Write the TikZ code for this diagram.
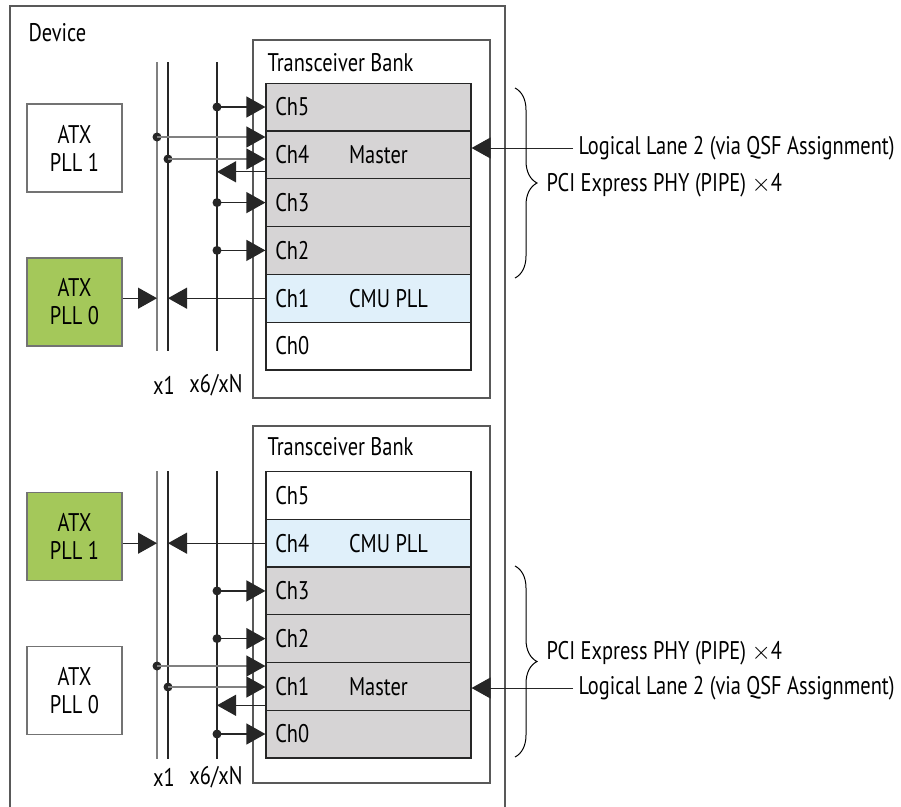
\documentclass[tikz,border=0pt]{standalone}
\usepackage{fontspec}
\setmainfont{PT Sans}[FakeStretch=0.8]
\usetikzlibrary{
    positioning,              % relative placement
    arrows.meta,              % Triangle arrow tips
    calc,                     % offsets from node anchors
    decorations.pathreplacing % braces
}

\definecolor{atxgreen}{RGB}{164,200,90}
\definecolor{chgray}{RGB}{214,212,213}
\definecolor{cmublue}{RGB}{224,240,250}

\begin{document}
\begin{tikzpicture}[
        x=1pt, y=-1pt,
        >={Triangle[length=19pt,width=21pt,color=black!85]},
        line width=1.2pt,
        font=\fontsize{25.5}{29}\selectfont,
        % Styles
        devbox/.style={draw=black!65, line width=1.2pt},
        chan/.style={rectangle, draw=black!85, line width=1.2pt, minimum width=205pt, minimum height=47.8pt, inner sep=0pt},
        chlabel/.style={anchor=west, xshift=6pt},
        atx/.style={rectangle, draw=black!55, line width=1.2pt, minimum width=95pt, minimum height=88pt, align=center, font=\fontsize{25.5}{28}\selectfont},
        txt/.style={anchor=west, inner xsep=0pt},
        bus/.style={draw=black!85, line width=1.2pt},
        feed/.style={->, black!85},
        feedgray/.style={->, black!50},
        tap/.style={circle, fill=black!85, inner sep=0pt, minimum size=9pt},
        lanebrace/.style={decorate, decoration={brace, amplitude=22pt}, line width=1pt}
    ]
    \useasboundingbox (0,0) rectangle (901,806);

    % --- Device outline (open at the bottom) ---
    \draw[devbox] (10,810) -- (10,6) -- (505,6) -- (505,810);
    \node[txt] (device) at (28,33) {Device};

    % --- 1. Upper transceiver bank ---
    \draw[devbox] (253,40) rectangle (490,398);
    \node[txt] (tbank) at (267,63) {Transceiver Bank};
    \foreach \n/\c [count=\k from 0] in {5/chgray, 4/chgray, 3/chgray, 2/chgray, 1/cmublue, 0/white}
        \node[chan, fill=\c, label={[chlabel]west:Ch\n}] (t\n) at (368.5,107+47.8*\k) {};
    \node[txt] (tmaster) at ($(t4.west)+(83,0)$) {Master};
    \node[txt] (tcmu) at ($(t1.west)+(83,0)$) {CMU PLL};

    % ATX PLLs
    \node[atx] (tatx1) at (74.5,148) {ATX\\PLL 1};
    \node[atx, fill=atxgreen] (tatx0) at (74.5,302) {ATX\\PLL 0};

    % Clock lines x1 / x6/xN
    \coordinate (ta) at (157,62);
    \coordinate (tb) at (168,62);
    \coordinate (tc) at (217,62);
    \draw[bus, black!50] (ta) -- ++(0,289);
    \draw[bus] (tb) -- ++(0,289);
    \draw[bus] (tc) -- ++(0,289);
    \node (tx1) at (164,385) {x1};
    \node (tx6) at (216,385) {x6/xN};

    % Taps into the channels
    \foreach \n in {5,3,2} {
        \node[tap] (td\n) at (tc |- t\n) {};
        \draw[feed] (td\n.center) -- (t\n.west);
    }
    \node[tap] (tda) at (157,137) {};
    \node[tap] (tdb) at (168,159) {};
    \draw[feedgray] (tda.center) -- (tda -| t4.west);
    \draw[feedgray] (tdb.center) -- (tdb -| t4.west);
    \draw[feed] ($(t4.west)+(0,17)$) -- (tc |- {$(t4.west)+(0,17)$});
    \draw[feed] (tatx0.east |- t1) -- (ta |- t1);
    \draw[feed] (t1.west) -- (tb |- t1);

    % --- 2. Annotations (upper) ---
    \node[txt] (tlane) at (578,148) {Logical Lane 2 (via QSF Assignment)};
    \draw[feed, line width=1pt] ([xshift=-5pt]tlane.west) -- (t4.east |- tlane.west);
    \draw[lanebrace] (515,88) -- (515,278);
    \node[txt] (tpci) at (546,185) {PCI Express PHY (PIPE) $\times$4};

    % --- 3. Lower transceiver bank ---
    \draw[devbox] (253,426) rectangle (490,783);
    \node[txt] (bbank) at (267,447) {Transceiver Bank};
    \foreach \n/\c [count=\k from 0] in {5/white, 4/cmublue, 3/chgray, 2/chgray, 1/chgray, 0/chgray}
        \node[chan, fill=\c, label={[chlabel]west:Ch\n}] (b\n) at (368.5,495.5+47.7*\k) {};
    \node[txt] (bcmu) at ($(b4.west)+(83,0)$) {CMU PLL};
    \node[txt] (bmaster) at ($(b1.west)+(83,0)$) {Master};

    % ATX PLLs
    \node[atx, fill=atxgreen] (batx1) at (74.5,536.5) {ATX\\PLL 1};
    \node[atx] (batx0) at (74.5,690.5) {ATX\\PLL 0};

    % Clock lines x1 / x6/xN
    \coordinate (ba) at (157,471);
    \coordinate (bb) at (168,471);
    \coordinate (bc) at (217,471);
    \draw[bus, black!50] (ba) -- ++(0,288);
    \draw[bus] (bb) -- ++(0,288);
    \draw[bus] (bc) -- ++(0,288);
    \node (bx1) at (164,777) {x1};
    \node (bx6) at (216,777) {x6/xN};

    % Taps into the channels
    \foreach \n in {3,2,0} {
        \node[tap] (bd\n) at (bc |- b\n) {};
        \draw[feed] (bd\n.center) -- (b\n.west);
    }
    \node[tap] (bda) at (157,666) {};
    \node[tap] (bdb) at (168,687) {};
    \draw[feedgray] (bda.center) -- (bda -| b1.west);
    \draw[feedgray] (bdb.center) -- (bdb -| b1.west);
    \draw[feed] ($(b1.west)+(0,19)$) -- (bc |- {$(b1.west)+(0,19)$});
    \draw[feed] (batx1.east |- b4) -- (ba |- b4);
    \draw[feed] (b4.west) -- (bb |- b4);

    % --- 4. Annotations (lower) ---
    \node[txt] (blane) at (578,688) {Logical Lane 2 (via QSF Assignment)};
    \draw[feed, line width=1pt] ([xshift=-5pt]blane.west) -- (b1.east |- blane.west);
    \draw[lanebrace] (515,566) -- (515,757);
    \node[txt] (bpci) at (546,653) {PCI Express PHY (PIPE) $\times$4};

\end{tikzpicture}
\end{document}
